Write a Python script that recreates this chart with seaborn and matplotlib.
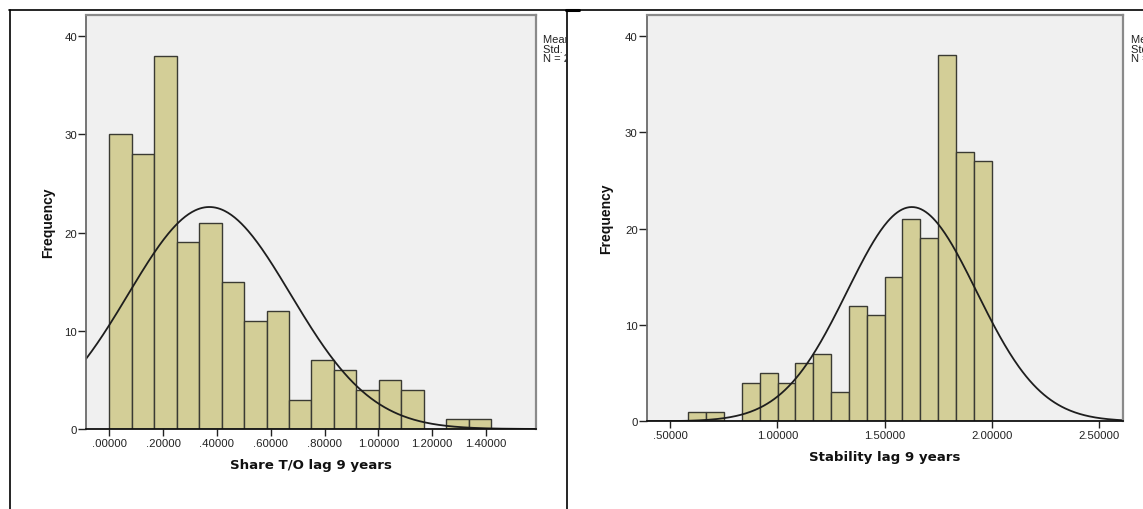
import numpy as np
import pandas as pd
import matplotlib
matplotlib.use("Agg")
import matplotlib.pyplot as plt
import seaborn as sns
from matplotlib.lines import Line2D

# ---------------- data ----------------
share_counts = [30, 28, 38, 19, 21, 15, 11, 12, 3, 7, 6, 4, 5, 4, 0, 1, 1]
share_bin_start = 0.0
share_bin_width = 0.0835
share_mean = 0.372
share_sd = 0.302
share_n = 205
share_ticks = [0.0, 0.2, 0.4, 0.6, 0.8, 1.0, 1.2, 1.4]
share_ticklabels = [".00000", ".20000", ".40000", ".60000", ".80000",
                    "1.00000", "1.20000", "1.40000"]
share_label = "Share T/O lag 9 years"
share_stats = "Mean = .37\nStd. Dev. = .302\nN = 205"

stab_counts = [1, 1, 0, 4, 5, 4, 6, 7, 3, 12, 11, 15, 21, 19, 38, 28, 27]
stab_bin_start = 0.585
stab_bin_width = 0.0832
stab_mean = 1.627
stab_sd = 0.3015
stab_n = 202
stab_ticks = [0.5, 1.0, 1.5, 2.0, 2.5]
stab_ticklabels = [".50000", "1.00000", "1.50000", "2.00000", "2.50000"]
stab_label = "Stability lag 9 years"
stab_stats = "Mean = 1.63\nStd. Dev. = .302\nN = 202"

y_ticks = [0, 10, 20, 30, 40]
y_label = "Frequency"

# ---------------- style ----------------
sns.set_theme(style="ticks")
plt.rcParams["font.family"] = ["Liberation Sans", "DejaVu Sans"]

W, H = 1143, 510
fig = plt.figure(figsize=(W / 100, H / 100), dpi=100)
fig.patch.set_facecolor("white")

BAR = "#D3CE97"
EDGE = "#3a3a33"
TXT = "#222222"


def px_axes(x0, y0, x1, y1):
    """axes rectangle from pixel box (top-left origin)"""
    return fig.add_axes([x0 / W, 1 - y1 / H, (x1 - x0) / W, (y1 - y0) / H])


def panel(ax, counts, start, width, mean, sd, n, xlim, ticks, ticklabels, xlabel,
          xlabelpad, ylabelpad):
    counts = [float(c) for c in counts]
    edges = [start + width * i for i in range(len(counts) + 1)]
    centers = [(edges[i] + edges[i + 1]) / 2 for i in range(len(counts))]
    df = pd.DataFrame({"x": centers, "w": counts})
    sns.histplot(data=df, x="x", weights="w", bins=edges, color=BAR,
                 edgecolor=EDGE, linewidth=1.0, alpha=1.0, ax=ax)
    xs = np.linspace(xlim[0], xlim[1], 400)
    ys = n * width * np.exp(-0.5 * ((xs - mean) / sd) ** 2) / (sd * np.sqrt(2 * np.pi))
    sns.lineplot(x=xs, y=ys, color="#1e1e1e", linewidth=1.3, ax=ax)
    ax.set_facecolor("#F0F0F0")
    ax.set_xlim(*xlim)
    ax.set_ylim(0, 42.2)
    ax.set_xticks(ticks)
    ax.set_xticklabels(ticklabels)
    ax.set_yticks(y_ticks)
    ax.set_yticklabels([str(t) for t in y_ticks])
    ax.tick_params(axis="both", labelsize=8.2, colors=TXT, width=1.0)
    ax.tick_params(axis="x", length=5, pad=1.5)
    ax.tick_params(axis="y", length=6, pad=0.5)
    ax.set_xlabel(xlabel, fontsize=9.6, fontweight="bold", color="#111111",
                  labelpad=xlabelpad, family=["DejaVu Sans"])
    ax.set_ylabel(y_label, fontsize=10, fontweight="bold", color="#111111",
                  labelpad=ylabelpad)
    for s in ["top", "right"]:
        ax.spines[s].set_color("#8a8a8a")
        ax.spines[s].set_linewidth(1.6)
    ax.spines["left"].set_color("#6a6a6a")
    ax.spines["left"].set_linewidth(1.3)
    ax.spines["bottom"].set_color("#111111")
    ax.spines["bottom"].set_linewidth(1.3)


ax1 = px_axes(86, 15.7, 535.7, 430)
panel(ax1, share_counts, share_bin_start, share_bin_width, share_mean, share_sd,
      share_n, (-0.0866, 1.585), share_ticks, share_ticklabels, share_label, 7, 6.3)

ax2 = px_axes(646.7, 15.7, 1122.7, 422.3)
panel(ax2, stab_counts, stab_bin_start, stab_bin_width, stab_mean, stab_sd,
      stab_n, (0.391, 2.61), stab_ticks, stab_ticklabels, stab_label, 7, 8.6)

# statistics boxes, clipped by the panel borders like in the original
for (x0, x1, txt) in [(541, 566, share_stats), (1129, 1143, stab_stats)]:
    tax = px_axes(x0, 30, x1, 75)
    tax.axis("off")
    tax.text(2 / (x1 - x0), (75 - 35) / 45, txt, transform=tax.transAxes,
             ha="left", va="top", fontsize=8, color=TXT, linespacing=0.95,
             clip_on=True)

# outer frame lines
def fig_line(x0, y0, x1, y1, lw):
    fig.add_artist(Line2D([x0 / W, x1 / W], [1 - y0 / H, 1 - y1 / H],
                          transform=fig.transFigure, color="black", linewidth=lw))

fig_line(9, 11, W, 11, 1.2)
fig_line(9.5, 11, 9.5, H, 1.2)
fig_line(566.5, 11, 566.5, H, 1.2)
fig_line(566, 11, 579, 11, 2.2)

fig.savefig("out.png", dpi=100)
